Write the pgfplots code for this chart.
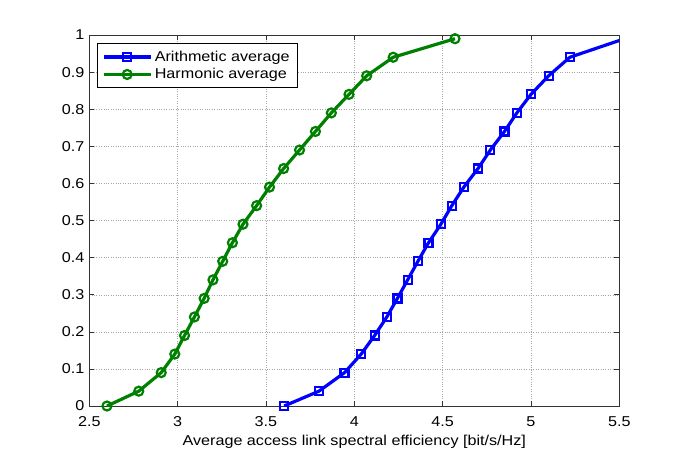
\documentclass[border=0pt]{standalone}
\usepackage{fontspec}
\setmainfont[FakeStretch=1.13]{Liberation Sans}
\usepackage{pgfplots}
\pgfplotsset{compat=1.18}
\definecolor{mblue}{RGB}{0,0,255}
\definecolor{mgreen}{RGB}{0,128,0}
\begin{document}
\fontsize{14.3}{17}\selectfont
\begin{tikzpicture}
\path[use as bounding box] (-89.3pt,-50pt) rectangle (595.7pt,406pt);
\begin{axis}[
 at={(0,0)}, anchor=south west,
 scale only axis, width=530pt, height=371pt,
 xmin=2.5, xmax=5.5, ymin=0, ymax=1,
 xtick={2.5,3,3.5,4,4.5,5,5.5},
 ytick={0,0.1,0.2,0.3,0.4,0.5,0.6,0.7,0.8,0.9,1},
 tick align=inside, major tick length=5pt,
 grid=major, major grid style={dotted, gray!70},
 axis line style={line width=0.8pt, black!80},
 every tick/.style={black!80, line width=0.6pt},
 xlabel={Average access link spectral efficiency [bit/s/Hz]},
 tick label style={font=\fontsize{14.3}{17}\selectfont},
 label style={font=\fontsize{14.3}{17}\selectfont},
 xticklabel style={yshift=-6pt},
 xlabel style={yshift=2pt},
 /pgf/number format/assume math mode=true,
 legend cell align=left,
 legend style={at={(0,1)}, anchor=north west, xshift=7.4pt, yshift=-8.3pt,
   draw=black, line width=0.8pt, font=\fontsize{14.3}{17}\selectfont,
   inner xsep=5pt, inner ysep=4.5pt, nodes={inner sep=2.5pt}, row sep=0pt},
 legend image code/.code={\draw[mark repeat=2,mark phase=2] plot coordinates {(0pt,0pt) (23.5pt,0pt) (47pt,0pt)};},
]
\addplot[mblue, line width=3.2pt, mark=square, mark size=4pt, mark options={line width=2.2pt}] coordinates {
(3.603,0) (3.80,0.04) (3.945,0.09) (4.039,0.14) (4.115,0.19) (4.184,0.24) (4.244,0.29) (4.302,0.34) (4.36,0.39) (4.42,0.44) (4.49,0.49) (4.552,0.54) (4.62,0.59) (4.70,0.64) (4.77,0.69) (4.85,0.74) (4.92,0.79) (5.00,0.84) (5.10,0.89) (5.22,0.94) (5.53,0.99)
};
\addlegendentry{Arithmetic average}
\addplot[mgreen, line width=3.2pt, mark=o, mark size=4.5pt, mark options={line width=2.2pt}] coordinates {
(2.60,0) (2.78,0.04) (2.907,0.09) (2.984,0.14) (3.039,0.19) (3.095,0.24) (3.15,0.29) (3.20,0.34) (3.255,0.39) (3.31,0.44) (3.37,0.49) (3.447,0.54) (3.52,0.59) (3.60,0.64) (3.69,0.69) (3.78,0.74) (3.87,0.79) (3.97,0.84) (4.07,0.89) (4.22,0.94) (4.57,0.99)
};
\addlegendentry{Harmonic average}
\end{axis}
\end{tikzpicture}
\end{document}
